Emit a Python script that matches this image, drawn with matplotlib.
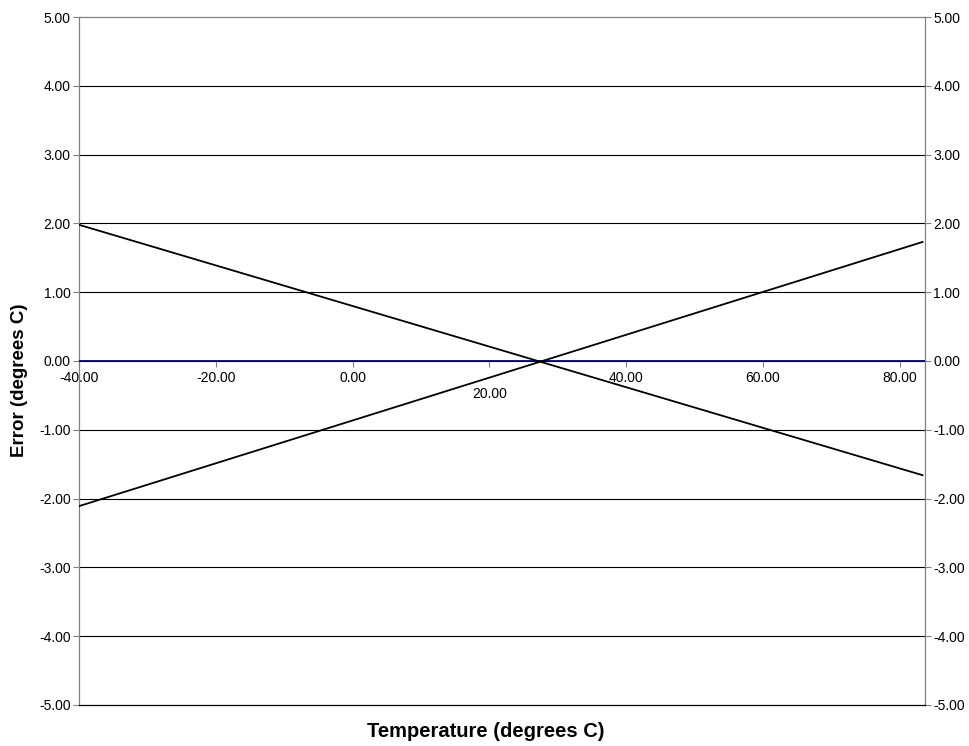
import matplotlib.pyplot as plt
from matplotlib.markers import TICKDOWN

plt.rcParams["font.family"] = ["Liberation Sans", "DejaVu Sans"]

# endpoints of the two error lines
temps = [-40.0, 83.35]
error_a = [1.98, -1.66]
error_b = [-2.11, 1.73]

# zero reference line
ref_temps = [-40.0, 83.7]
ref_error = [0.0, 0.0]

x_ticks = [-40, -20, 0, 20, 40, 60, 80]
y_ticks = [-5, -4, -3, -2, -1, 0, 1, 2, 3, 4, 5]

fig = plt.figure(figsize=(9.69, 7.46), dpi=100)
ax = fig.add_axes([0.0815, 0.055, 0.873, 0.9222])

ax.set_xlim(ref_temps[0], ref_temps[1])
ax.set_ylim(-5, 5)

# horizontal grid
for y in y_ticks[1:-1]:
    ax.axhline(y, color="black", lw=0.8, zorder=1)

ax.plot(ref_temps, ref_error, color="#000080", lw=1.3, zorder=3)
ax.plot(temps, error_a, color="black", lw=1.3, zorder=4)
ax.plot(temps, error_b, color="black", lw=1.3, zorder=4)

# y axis on both sides
ax.set_yticks(y_ticks)
ax.set_yticklabels([f"{v:.2f}" for v in y_ticks])
ax.tick_params(axis="y", which="both", left=True, right=True,
               labelleft=True, labelright=True, direction="out",
               length=4, width=0.8, color="#808080", labelsize=10,
               labelcolor="black", pad=2)

# x axis ticks and labels sit on the zero line
ax.set_xticks([])
ax.plot(x_ticks, [0] * len(x_ticks), linestyle="none", marker=TICKDOWN,
        markersize=4, color="#808080", mew=0.8, zorder=2, clip_on=False)
for t in x_ticks:
    dy = -19 if t == 20 else -7
    ax.annotate(f"{t:.2f}", xy=(t, 0), xytext=(0, dy), textcoords="offset points",
                ha="center", va="top", fontsize=10, color="black")

for side in ["left", "right", "top"]:
    ax.spines[side].set_color("#808080")
    ax.spines[side].set_linewidth(0.9)
ax.spines["bottom"].set_color("black")
ax.spines["bottom"].set_linewidth(0.9)

ax.set_ylabel("Error (degrees C)", fontsize=13.5, fontweight="bold")
ax.yaxis.set_label_coords(-0.060, 0.472)
ax.set_xlabel("Temperature (degrees C)", fontsize=14.5, fontweight="bold")
ax.xaxis.set_label_coords(0.481, -0.025)

fig.savefig("out.png", dpi=100)
